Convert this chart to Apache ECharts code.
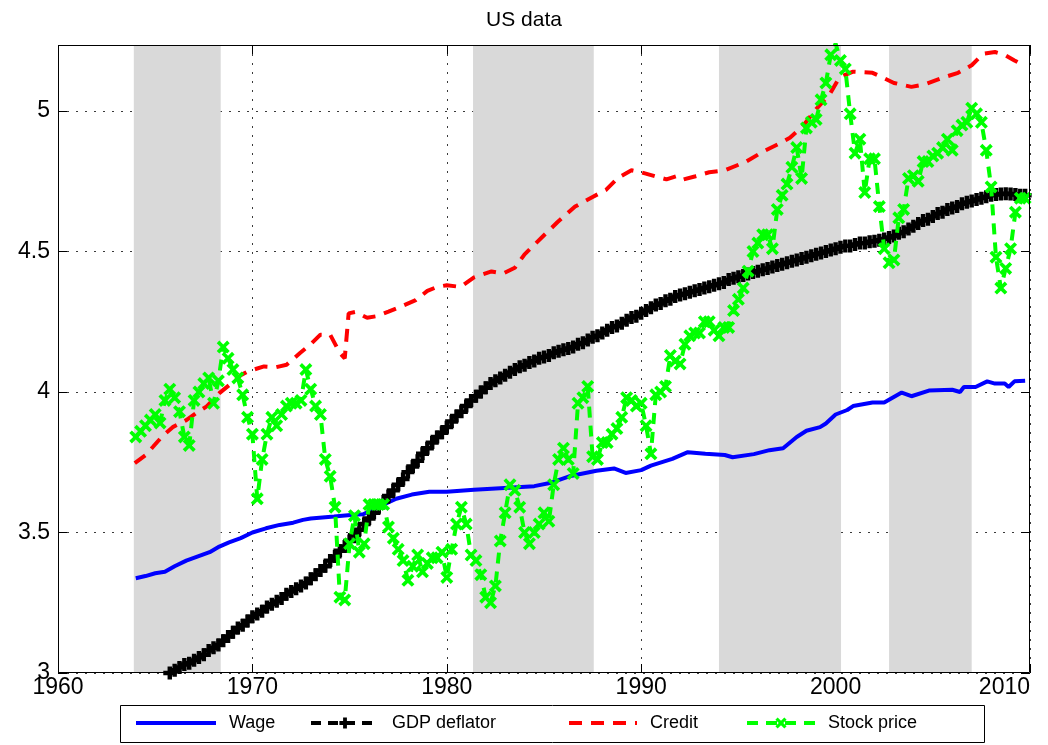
<!DOCTYPE html>
<html>
<head>
<meta charset="utf-8">
<script src="https://cdn.jsdelivr.net/npm/echarts@6/dist/echarts.min.js"></script>
<style>
html,body{margin:0;padding:0;background:#fff;}
#chart{width:1048px;height:745px;}
</style>
</head>
<body>
<div id="chart"></div>
<script>
// ---------------- data ----------------
const titleText = 'US data';
const seriesNames = ['Wage', 'GDP deflator', 'Credit', 'Stock price'];

// shaded periods (years)
const bandStarts = [1963.9, 1981.35, 1994.0, 2002.75];
const bandEnds   = [1968.37, 1987.56, 2000.28, 2007.0];

// Wage (log)
const wageYears = [1964.0,1964.5,1965.0,1965.5,1966.0,1966.6,1967.2,1967.8,1968.3,1968.8,1969.4,1970.0,1970.7,1971.4,1972.1,1972.6,1973.0,1974.2,1975.2,1975.7,1976.3,1976.6,1977.4,1978.2,1979.1,1980.0,1981.4,1982.3,1983.4,1984.5,1985.3,1986.3,1987.7,1988.6,1989.2,1990.0,1990.5,1991.6,1992.4,1993.3,1994.3,1994.7,1995.8,1996.6,1997.3,1998.0,1998.5,1999.2,1999.5,2000.0,2000.6,2000.9,2001.9,2002.5,2003.4,2003.9,2004.8,2006.0,2006.4,2006.6,2007.2,2007.8,2008.2,2008.7,2008.9,2009.2,2009.75];
const wageValues = [3.337,3.345,3.355,3.36,3.38,3.40,3.415,3.43,3.45,3.465,3.48,3.50,3.515,3.527,3.535,3.545,3.55,3.557,3.563,3.565,3.585,3.595,3.62,3.635,3.645,3.645,3.652,3.656,3.66,3.665,3.676,3.70,3.72,3.728,3.712,3.722,3.738,3.762,3.786,3.78,3.776,3.768,3.779,3.793,3.80,3.84,3.862,3.875,3.888,3.92,3.936,3.95,3.963,3.963,3.998,3.985,4.005,4.008,4.00,4.018,4.018,4.038,4.03,4.03,4.018,4.038,4.04];

// Credit (log)
const creditYears = [1963.95,1964.5,1964.9,1965.4,1965.9,1966.6,1967.1,1967.65,1968.3,1968.9,1969.4,1969.8,1970.6,1971.2,1971.76,1972.45,1973.0,1973.5,1974.0,1974.5,1974.75,1974.95,1975.3,1975.9,1976.4,1977.0,1977.7,1978.4,1979.0,1979.5,1980.0,1980.7,1981.4,1982.3,1982.9,1983.5,1984.0,1984.5,1985.0,1985.7,1986.6,1987.5,1988.2,1988.8,1989.5,1990.0,1990.7,1991.3,1991.8,1992.1,1992.8,1993.5,1994.3,1995.4,1996.3,1997.1,1997.65,1998.3,1999.0,1999.7,2000.2,2000.9,2001.9,2002.4,2003.0,2003.9,2004.6,2005.4,2006.3,2007.0,2007.6,2008.2,2008.7,2009.2,2009.75];
const creditValues = [3.747,3.775,3.806,3.845,3.875,3.90,3.925,3.949,3.996,4.03,4.06,4.074,4.091,4.088,4.097,4.139,4.17,4.204,4.204,4.139,4.12,4.28,4.285,4.264,4.27,4.286,4.306,4.327,4.36,4.374,4.38,4.374,4.408,4.429,4.422,4.442,4.49,4.524,4.558,4.605,4.66,4.694,4.72,4.762,4.789,4.782,4.768,4.757,4.768,4.755,4.768,4.782,4.789,4.82,4.857,4.884,4.905,4.945,5.007,5.06,5.12,5.14,5.136,5.12,5.10,5.086,5.095,5.116,5.136,5.163,5.204,5.21,5.20,5.18,5.16];

// Quarterly series, 1964Q1 .. 2009Q4
const quarterStart = 1964;
const quartersPerYear = 4;
const gdpDeflator = [
  2.93,2.94,2.95,2.96,     2.975,2.985,2.995,3.00,  3.01,3.02,3.03,3.035,   3.045,3.055,3.065,3.08,
  3.09,3.10,3.115,3.13,    3.145,3.16,3.17,3.185,   3.20,3.21,3.22,3.235,    3.245,3.255,3.265,3.28,
  3.29,3.30,3.31,3.32,     3.335,3.35,3.365,3.38,   3.40,3.415,3.435,3.45,   3.47,3.49,3.51,3.53,
  3.55,3.57,3.59,3.61,     3.63,3.65,3.67,3.69,     3.715,3.735,3.755,3.78,  3.80,3.82,3.84,3.855,
  3.875,3.895,3.915,3.93,  3.95,3.97,3.985,4.00,    4.015,4.03,4.04,4.05,    4.06,4.07,4.08,4.09,
  4.095,4.105,4.11,4.12,   4.125,4.13,4.14,4.145,   4.15,4.155,4.16,4.17,    4.175,4.185,4.195,4.20,
  4.21,4.22,4.23,4.235,    4.245,4.255,4.265,4.27,  4.28,4.29,4.30,4.31,     4.315,4.325,4.33,4.34,
  4.345,4.35,4.355,4.36,   4.365,4.37,4.375,4.38,   4.385,4.39,4.40,4.405,   4.41,4.415,4.42,4.425,
  4.43,4.435,4.44,4.445,   4.45,4.455,4.46,4.465,   4.47,4.475,4.48,4.485,   4.49,4.495,4.50,4.505,
  4.51,4.515,4.52,4.52,    4.525,4.53,4.53,4.535,   4.537,4.54,4.545,4.55,   4.555,4.565,4.57,4.58,
  4.59,4.60,4.61,4.615,    4.625,4.635,4.64,4.65,   4.655,4.66,4.67,4.675,   4.68,4.685,4.69,4.695,
  4.70,4.703,4.705,4.706,  4.705,4.703,4.70,4.70
];
const stockPrice = [
  3.84,3.86,3.88,3.90,  3.92,3.89,3.97,4.01,  3.98,3.93,3.84,3.81,  3.97,4.00,4.03,4.05,
  3.96,4.04,4.16,4.12,  4.08,4.05,3.99,3.91,  3.85,3.62,3.76,3.85,  3.91,3.88,3.92,3.95,
  3.96,3.96,3.97,4.08,  4.01,3.95,3.92,3.76,  3.70,3.59,3.27,3.26,  3.46,3.56,3.43,3.46,
  3.60,3.60,3.60,3.60,  3.52,3.48,3.44,3.40,  3.33,3.38,3.42,3.36,  3.39,3.41,3.41,3.43,
  3.34,3.44,3.53,3.59,  3.53,3.42,3.40,3.35,  3.27,3.25,3.31,3.47,  3.57,3.67,3.65,3.59,
  3.50,3.46,3.50,3.53,  3.57,3.54,3.67,3.76,  3.80,3.76,3.71,3.96,  3.98,4.02,3.77,3.76,
  3.82,3.82,3.85,3.87,  3.91,3.98,3.97,3.95,  3.96,3.88,3.78,3.99,  4.00,4.02,4.13,4.11,
  4.10,4.17,4.20,4.21,  4.21,4.25,4.25,4.22,  4.20,4.23,4.23,4.29,  4.33,4.37,4.43,4.50,
  4.53,4.56,4.56,4.51,  4.65,4.70,4.74,4.80,  4.87,4.76,4.94,4.96,  4.97,5.04,5.10,5.20,
  5.24,5.18,5.15,4.99,  4.85,4.90,4.71,4.83,  4.83,4.66,4.51,4.46,  4.47,4.62,4.65,4.76,
  4.77,4.75,4.82,4.82,  4.84,4.85,4.87,4.90,  4.86,4.93,4.95,4.96,  5.01,4.99,4.96,4.86,
  4.73,4.48,4.37,4.44,  4.51,4.64,4.69,4.69
];

// axis settings
const xMin = 1960, xMax = 2010, xStep = 10;
const yMin = 3, yMax = 5.235, yStep = 0.5;

// ---------------- build ----------------
const zip = (xs, ys) => xs.map((x, i) => [x, ys[i]]);
const quarterly = ys => ys.map((y, i) => [quarterStart + i / quartersPerYear, y]);

const FONT = '"Liberation Sans Narrow", "Liberation Sans", Arial, sans-serif';
const GL = 58, GT = 45, GR = 18, GB = 72;
const W = 1048, H = 745;

const plusSym  = 'path://M3.3,0H6.7V3.3H10V6.7H6.7V10H3.3V6.7H0V3.3H3.3Z';
const crossSym = 'path://M0,2L2,0L5,3L8,0L10,2L7,5L10,8L8,10L5,7L2,10L0,8L3,5Z';

const gridDots = { color: '#3a3a3a', width: 1, type: [2, 7] };

const chart = echarts.init(document.getElementById('chart'), null, { renderer: 'canvas' });

const legendCfg = (name, left, itemWidth, hideSymbol) => ({
  data: [hideSymbol ? { name: name, itemStyle: { opacity: 0 } } : { name: name }],
  left: left, top: 714, orient: 'horizontal',
  itemWidth: itemWidth, itemHeight: 14, padding: 0, itemGap: 0,
  selectedMode: false,
  lineStyle: { width: 4 },
  textStyle: { fontFamily: FONT, fontSize: 18, color: '#000', padding: [0, 0, 0, 8] }
});

chart.setOption({
  animation: false,
  backgroundColor: '#fff',
  title: {
    text: titleText, left: 'center', top: 5,
    textStyle: { fontFamily: FONT, fontSize: 21, fontWeight: 'normal', color: '#000' }
  },
  grid: { left: GL, top: GT, right: GR, bottom: GB, containLabel: false, outerBoundsMode: 'none' },
  xAxis: [
    {
      type: 'value', min: xMin, max: xMax, interval: xStep, position: 'bottom',
      axisLine: { show: false },
      axisTick: { show: true, inside: true, length: 9, lineStyle: { color: '#000', width: 1 } },
      axisLabel: { show: true, margin: 3, fontFamily: FONT, fontSize: 23, color: '#000',
                   alignMaxLabel: 'right', formatter: v => String(v) },
      splitLine: { show: true, lineStyle: gridDots }
    },
    {
      type: 'value', min: xMin, max: xMax, interval: xStep, position: 'top',
      axisLine: { show: false },
      axisTick: { show: true, inside: true, length: 9, lineStyle: { color: '#000', width: 1 } },
      axisLabel: { show: false }, splitLine: { show: false }
    }
  ],
  yAxis: [
    {
      type: 'value', min: yMin, max: yMax, interval: yStep, position: 'left',
      axisLine: { show: false },
      axisTick: { show: true, inside: true, length: 9, lineStyle: { color: '#000', width: 1 } },
      axisLabel: { show: true, margin: 8, fontFamily: FONT, fontSize: 23, color: '#000',
                   showMaxLabel: false },
      splitLine: { show: true, lineStyle: gridDots }
    },
    {
      type: 'value', min: yMin, max: yMax, interval: yStep, position: 'right',
      axisLine: { show: false },
      axisTick: { show: true, inside: true, length: 9, lineStyle: { color: '#000', width: 1 } },
      axisLabel: { show: false }, splitLine: { show: false }
    }
  ],
  legend: [
    legendCfg(seriesNames[0], 134, 80, true),
    legendCfg(seriesNames[1], 309, 68, false),
    legendCfg(seriesNames[2], 567, 68, true),
    legendCfg(seriesNames[3], 745, 68, false)
  ],
  graphic: [
    { type: 'rect', z: 1, shape: { x: 120.5, y: 705.5, width: 864, height: 37 },
      style: { fill: '#fff', stroke: '#000', lineWidth: 1 } },
    { type: 'rect', z: 50, silent: true,
      shape: { x: GL + 0.5, y: GT + 0.5, width: W - GL - GR - 1, height: H - GT - GB - 1 },
      style: { fill: 'none', stroke: '#000', lineWidth: 1 } }
  ],
  series: [
    {
      name: 'bands', type: 'line', data: [], z: 1, silent: true,
      markArea: {
        silent: true,
        itemStyle: { color: '#d9d9d9', opacity: 1 },
        data: bandStarts.map((s, i) => [{ xAxis: s }, { xAxis: bandEnds[i] }])
      }
    },
    {
      name: seriesNames[0], type: 'line', z: 3, data: zip(wageYears, wageValues),
      showSymbol: false, symbol: 'none',
      lineStyle: { color: '#0000ff', width: 4 }, itemStyle: { color: '#0000ff' }
    },
    {
      name: seriesNames[1], type: 'line', z: 4, data: quarterly(gdpDeflator),
      symbol: plusSym, symbolSize: 13, showSymbol: true,
      lineStyle: { color: '#000', width: 3, type: [10, 7] },
      itemStyle: { color: '#000' }
    },
    {
      name: seriesNames[2], type: 'line', z: 5, data: zip(creditYears, creditValues),
      showSymbol: false, symbol: 'none',
      lineStyle: { color: '#ff0000', width: 4, type: [13, 9] }, itemStyle: { color: '#ff0000' }
    },
    {
      name: seriesNames[3], type: 'line', z: 6, data: quarterly(stockPrice),
      symbol: crossSym, symbolSize: 13, showSymbol: true,
      lineStyle: { color: '#00ff00', width: 4, type: [11, 8] },
      itemStyle: { color: '#00ff00' }
    }
  ]
});
</script>
</body>
</html>
